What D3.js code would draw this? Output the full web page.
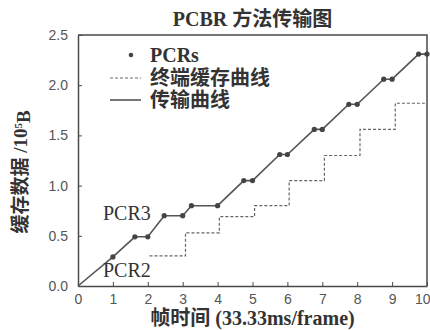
<!DOCTYPE html>
<html>
<head>
<meta charset="utf-8">
<script src="https://cdn.jsdelivr.net/npm/d3@7"></script>
<style>
  body { margin: 0; background: #fff; }
  svg { display: block; }
</style>
</head>
<body>
<div id="chart"></div>
<script>
// transmission curve (solid line), PCR points sit on every vertex but the origin
const transTime = [0, 1, 1.63, 2, 2.47, 3, 3.25, 4, 4.75, 5, 5.78, 6, 6.77, 7, 7.76, 8, 8.76, 9, 9.76, 10];
const transVal  = [0, 0.29, 0.49, 0.49, 0.70, 0.70, 0.80, 0.80, 1.05, 1.05, 1.31, 1.31, 1.56, 1.56, 1.81, 1.81, 2.06, 2.06, 2.31, 2.31];

// terminal buffer curve (dashed steps)
const bufTime = [2.05, 3.08, 4.05, 5.06, 6.05, 7.06, 8.08, 9.09, 10];
const bufVal  = [0.30, 0.53, 0.69, 0.80, 1.05, 1.30, 1.56, 1.82, 1.82];

const xTicks = [0, 1, 2, 3, 4, 5, 6, 7, 8, 9, 10];
const yTicks = [0, 0.5, 1.0, 1.5, 2.0, 2.5];

const legendLabels = ['PCRs', '终端缓存曲线', '传输曲线'];

const W = 430, H = 330;
const margin = {top: 35, right: 3, bottom: 44, left: 78};
const serif = '"Liberation Serif", "Noto Sans CJK SC", serif';
const sans = '"Liberation Sans", Arial, sans-serif';
const ink = '#4a4a4a';

const svg = d3.select('#chart').append('svg')
    .attr('width', W)
    .attr('height', H);

const x = d3.scaleLinear().domain([0, 10]).range([margin.left, W - margin.right]);
const y = d3.scaleLinear().domain([0, 2.5]).range([H - margin.bottom, margin.top]);

// axes with inward ticks
const xAxis = svg.append('g')
    .attr('transform', `translate(0,${y(0)})`)
    .call(d3.axisBottom(x).tickValues(xTicks).tickSizeInner(-4).tickSizeOuter(0).tickPadding(8)
      .tickFormat(d3.format('d')));
const yAxis = svg.append('g')
    .attr('transform', `translate(${x(0)},0)`)
    .call(d3.axisLeft(y).tickValues(yTicks).tickSizeInner(-4).tickSizeOuter(0).tickPadding(10)
      .tickFormat(d3.format('.1f')));

[xAxis, yAxis].forEach(g => {
  g.select('.domain').attr('stroke', ink).attr('stroke-width', 1.5);
  g.selectAll('.tick line').attr('stroke', ink).attr('stroke-width', 1);
  g.selectAll('.tick text')
    .attr('fill', '#555')
    .style('font-family', sans)
    .style('font-size', '14px');
});
// last x label sits at the window edge, nudge it in
xAxis.selectAll('.tick text').filter(d => d === 10).attr('text-anchor', 'end').attr('x', 3);

// top and right frame
svg.append('path')
    .attr('d', `M${x(0)},${y(2.5)}H${x(10)}V${y(0)}`)
    .attr('fill', 'none')
    .attr('stroke', ink)
    .attr('stroke-width', 1.5);

// buffer curve
const bufData = bufTime.map((t, i) => [t, bufVal[i]]);
svg.append('path')
    .datum(bufData)
    .attr('d', d3.line().x(d => x(d[0])).y(d => y(d[1])).curve(d3.curveStepAfter))
    .attr('fill', 'none')
    .attr('stroke', '#666')
    .attr('stroke-width', 1.2)
    .attr('stroke-dasharray', '3,2');

// transmission curve
const transData = transTime.map((t, i) => [t, transVal[i]]);
svg.append('path')
    .datum(transData)
    .attr('d', d3.line().x(d => x(d[0])).y(d => y(d[1])))
    .attr('fill', 'none')
    .attr('stroke', '#555')
    .attr('stroke-width', 1.6);

svg.append('g')
  .selectAll('circle')
  .data(transData.slice(1))
  .join('circle')
    .attr('cx', d => x(d[0]))
    .attr('cy', d => y(d[1]))
    .attr('r', 2.6)
    .attr('fill', '#444');

// PCR annotations
svg.append('text')
    .attr('x', 103).attr('y', 220)
    .attr('fill', '#333')
    .style('font-family', serif)
    .style('font-size', '20px')
    .text('PCR3');
svg.append('text')
    .attr('x', 103).attr('y', 277)
    .attr('fill', '#333')
    .style('font-family', serif)
    .style('font-size', '20px')
    .text('PCR2');

// legend
const legend = svg.append('g');
const rows = [55, 78, 100];
legend.append('circle')
    .attr('cx', 131).attr('cy', rows[0]).attr('r', 2.3).attr('fill', '#444');
legend.append('line')
    .attr('x1', 110).attr('x2', 141).attr('y1', rows[1]).attr('y2', rows[1])
    .attr('stroke', '#666').attr('stroke-width', 1.2).attr('stroke-dasharray', '3,2');
legend.append('line')
    .attr('x1', 110).attr('x2', 141).attr('y1', rows[2]).attr('y2', rows[2])
    .attr('stroke', '#555').attr('stroke-width', 1.6);
legend.selectAll('text')
  .data(legendLabels)
  .join('text')
    .attr('x', 150)
    .attr('y', (d, i) => rows[i])
    .attr('dy', '0.35em')
    .attr('fill', '#333')
    .style('font-family', serif)
    .style('font-weight', 'bold')
    .style('font-size', (d, i) => i === 0 ? '20px' : '20px')
    .text(d => d);

// title
svg.append('text')
    .attr('x', (x(0) + x(10)) / 2)
    .attr('y', 19)
    .attr('dy', '0.35em')
    .attr('text-anchor', 'middle')
    .attr('fill', '#333')
    .style('font-family', serif)
    .style('font-weight', 'bold')
    .style('font-size', '20px')
    .text('PCBR 方法传输图');

// axis labels
svg.append('text')
    .attr('x', (x(0) + x(10)) / 2)
    .attr('y', 318)
    .attr('dy', '0.35em')
    .attr('text-anchor', 'middle')
    .attr('fill', '#333')
    .style('font-family', serif)
    .style('font-weight', 'bold')
    .style('font-size', '20px')
    .text('帧时间 (33.33ms/frame)');

const yLabel = svg.append('text')
    .attr('transform', 'translate(20,172) rotate(-90)')
    .attr('dy', '0.35em')
    .attr('text-anchor', 'middle')
    .attr('fill', '#333')
    .style('font-family', serif)
    .style('font-weight', 'bold')
    .style('font-size', '19px');
yLabel.append('tspan').text('缓存数据 /10');
yLabel.append('tspan').attr('dy', '-0.45em').style('font-size', '11px').text('5');
yLabel.append('tspan').attr('dy', '0.45em').text('B');
</script>
</body>
</html>
